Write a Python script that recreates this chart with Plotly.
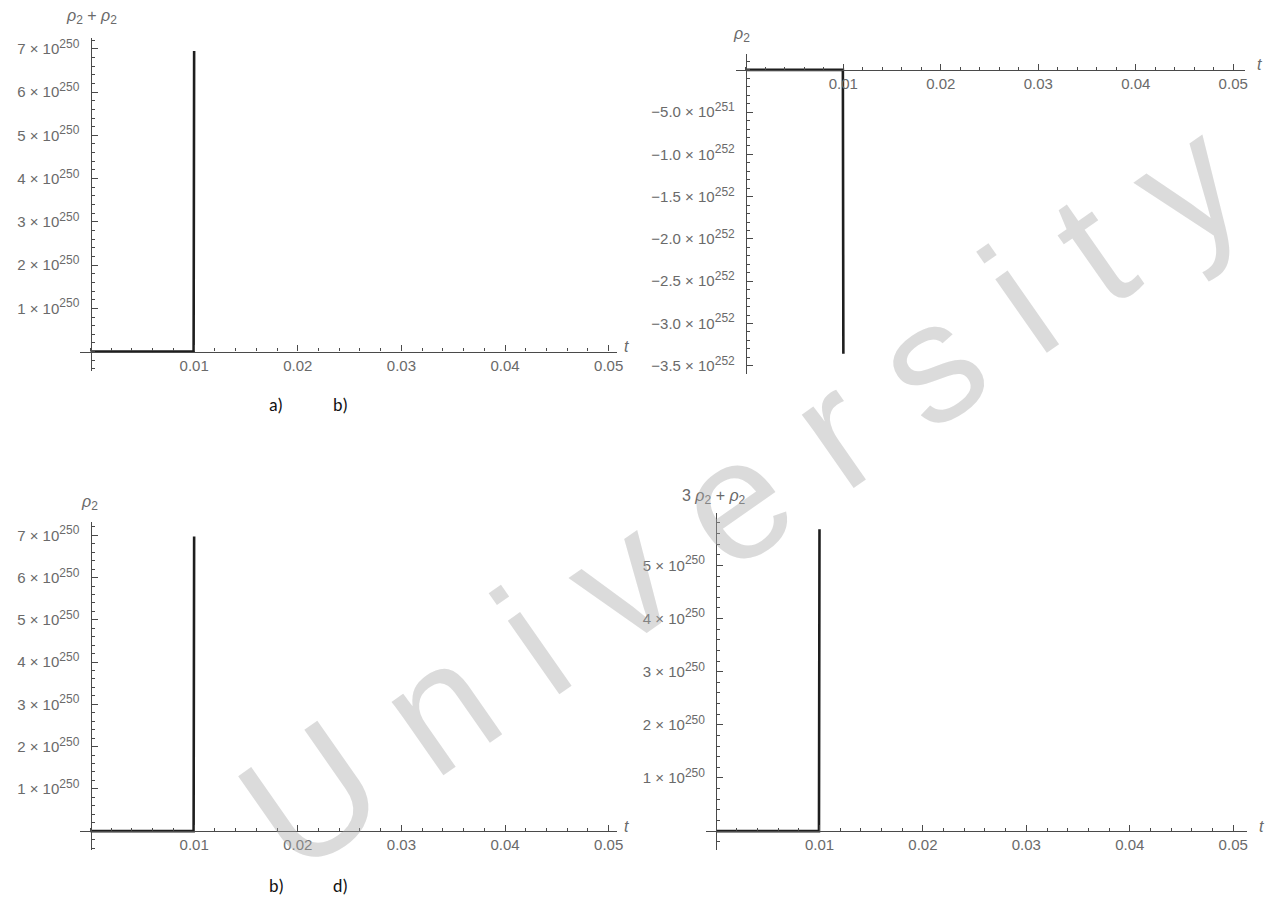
import plotly.graph_objects as go

W, H = 1279, 923

# ---- data ----
t_a = [0.0, 0.00995, 0.01]
v_a = [0.0, 0.0, 6.95e250]          # rho2 + rho2

t_b = [0.0, 0.00995, 0.01]
v_b = [0.0, 0.0, -3.36e252]         # rho2

t_c = [0.0, 0.00995, 0.01]
v_c = [0.0, 0.0, 6.97e250]          # rho2

t_d = [0.0, 0.00995, 0.01]
v_d = [0.0, 0.0, 5.68e250]          # 3 rho2 + rho2

x_ticks = [0.01, 0.02, 0.03, 0.04, 0.05]
x_ticklabels = ["0.01", "0.02", "0.03", "0.04", "0.05"]

ya_ticks = [1e250, 2e250, 3e250, 4e250, 5e250, 6e250, 7e250]
ya_mant = ["1", "2", "3", "4", "5", "6", "7"]
yb_ticks = [-5e251, -1e252, -1.5e252, -2e252, -2.5e252, -3e252, -3.5e252]
yb_mant = ["−5.0", "−1.0", "−1.5", "−2.0", "−2.5", "−3.0", "−3.5"]
yb_exp = ["251", "252", "252", "252", "252", "252", "252"]
yd_ticks = [1e250, 2e250, 3e250, 4e250, 5e250]
yd_mant = ["1", "2", "3", "4", "5"]

captions = ["a)", "b)", "b)", "d)"]


def sci(m, e):
    return f"{m} × 10<sup><span style='font-size:12px'>{e}</span></sup>"


AX = "#4a4a4a"
TXT = "#6a6a6a"
FONT = "Liberation Sans, Arial, sans-serif"

fig = go.Figure()

panels = [
    dict(t=t_a, v=v_a, xl=80, xr=620, x0=91, x5=612, yt=37, yb=370, y0=351,
         ppu=43.3 / 1e250, yticks=ya_ticks, ytext=[sci(m, "250") for m in ya_mant], mdy=0.2e250),
    dict(t=t_b, v=v_b, xl=740, xr=1252, x0=750, x5=1240, yt=53, yb=373, y0=69,
         ppu=42.3 / 5e251, yticks=yb_ticks, ytext=[sci(m, e) for m, e in zip(yb_mant, yb_exp)], mdy=1e251),
    dict(t=t_c, v=v_c, xl=80, xr=620, x0=91, x5=612, yt=522, yb=850, y0=831,
         ppu=42.3 / 1e250, yticks=ya_ticks, ytext=[sci(m, "250") for m in ya_mant], mdy=0.2e250),
    dict(t=t_d, v=v_d, xl=710, xr=1254, x0=720, x5=1240, yt=513, yb=850, y0=831,
         ppu=53.2 / 1e250, yticks=yd_ticks, ytext=[sci(m, "250") for m in yd_mant], mdy=0.2e250),
]

layout = {}
for i, p in enumerate(panels, start=1):
    sx = (p["x5"] - p["x0"]) / 0.05
    xr0 = (p["xl"] - p["x0"]) / sx
    xr1 = (p["xr"] - p["x0"]) / sx
    yr1 = (p["y0"] - p["yt"]) / p["ppu"]
    yr0 = (p["y0"] - p["yb"]) / p["ppu"]
    xn = "x" if i == 1 else f"x{i}"
    yn = "y" if i == 1 else f"y{i}"
    fig.add_trace(go.Scatter(x=p["t"], y=p["v"], mode="lines",
                             line=dict(color="#1e1e1e", width=2.6),
                             xaxis=xn, yaxis=yn, showlegend=False, hoverinfo="skip"))
    layout["xaxis" if i == 1 else f"xaxis{i}"] = dict(
        domain=[p["xl"] / W, p["xr"] / W], range=[xr0, xr1],
        anchor="free", position=1 - p["y0"] / H, side="bottom",
        showline=True, linecolor=AX, linewidth=1.3, showgrid=False, zeroline=False,
        tickmode="array", tickvals=x_ticks, ticktext=x_ticklabels,
        ticks="inside", ticklen=6, tickcolor=AX, tickwidth=1.2,
        tickfont=dict(family=FONT, size=15, color=TXT),
        minor=dict(tickmode="linear", tick0=0, dtick=0.002, ticks="inside",
                   ticklen=3, tickcolor=AX, tickwidth=1, showgrid=False),
        fixedrange=True,
    )
    layout["yaxis" if i == 1 else f"yaxis{i}"] = dict(
        domain=[1 - p["yb"] / H, 1 - p["yt"] / H], range=[yr0, yr1],
        anchor="free", position=p["x0"] / W, side="left",
        showline=True, linecolor=AX, linewidth=1.3, showgrid=False, zeroline=False,
        tickmode="array", tickvals=p["yticks"], ticktext=p["ytext"],
        ticks="inside", ticklen=6, tickcolor=AX, tickwidth=1.2,
        ticklabelstandoff=8,
        tickfont=dict(family=FONT, size=15, color=TXT),
        minor=dict(tickmode="linear", tick0=0, dtick=p["mdy"], ticks="inside",
                   ticklen=3, tickcolor=AX, tickwidth=1, showgrid=False),
        fixedrange=True,
    )

ann = []


def px(x, y, text, size=14, color=TXT, xanchor="center", family=FONT, **kw):
    ann.append(dict(x=x / W, y=1 - y / H, xref="paper", yref="paper", text=text,
                    showarrow=False, xanchor=xanchor, yanchor="middle",
                    font=dict(family=family, size=size, color=color), **kw))


rho = "<i>ρ</i><sub><span style='font-size:12px'>2</span></sub>"
px(92, 16, f"{rho} + {rho}", size=16)
px(746, 34, rho, size=16)
px(90, 503, rho, size=16)
px(718, 497, f"3 {rho} + {rho}", size=16)
for (x, y) in [(630, 346), (1266, 64), (630, 826), (1268, 826)]:
    px(x, y, "<i>t</i>", size=16)

# captions below the panels
CAPF = "Carlito, Calibri, Liberation Sans, sans-serif"
px(278, 404, captions[0], size=18, color="#111111", family=CAPF)
px(342, 404, captions[1], size=18, color="#111111", family=CAPF)
px(278, 886, captions[2], size=18, color="#111111", family=CAPF)
px(342, 886, captions[3], size=18, color="#111111", family=CAPF)

# watermark
ann.append(dict(x=745 / W, y=1 - 495 / H, xref="paper", yref="paper",
                text="U n i v e r s i t y",
                showarrow=False, textangle=-35, xanchor="center", yanchor="middle",
                font=dict(family="Liberation Sans, Arial, sans-serif", size=170,
                          color="rgba(170,170,170,0.42)")))

fig.update_layout(
    width=W, height=H, autosize=False,
    margin=dict(l=0, r=0, t=0, b=0),
    paper_bgcolor="white", plot_bgcolor="rgba(0,0,0,0)",
    annotations=ann, **layout,
)

fig.write_html("out.html", config={"displayModeBar": False},
               post_script="document.body.style.margin='0';document.body.style.padding='0';")
